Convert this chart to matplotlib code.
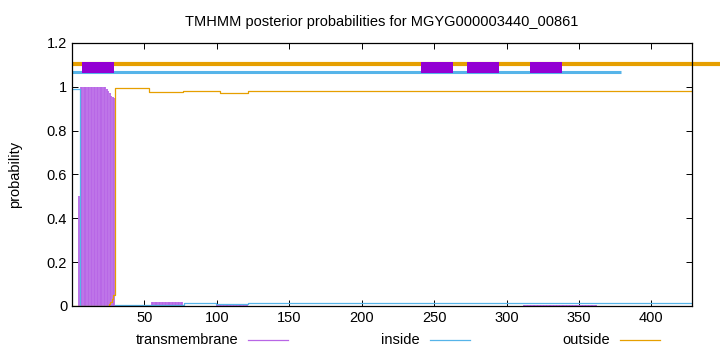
import numpy as np
import matplotlib
matplotlib.use("Agg")
import matplotlib.pyplot as plt
from matplotlib.lines import Line2D

plt.rcParams['font.family'] = ['Liberation Sans', 'DejaVu Sans']

# ---Sequence and posterior probabilities (run-length: last residue of run, value)---
seq_len = 428
title = "TMHMM posterior probabilities for MGYG000003440_00861"

tm_runs_end = [4, 5, 23, 24, 25, 26, 27, 28, 29, 54, 76, 99, 121, 311, 362, 428]
tm_runs_val = [0.0, 0.5, 1.0, 0.99, 0.98, 0.97, 0.96, 0.955, 0.95, 0.0, 0.018, 0.0, 0.009, 0.0, 0.003, 0.0]

inside_runs_end = [5, 29, 77, 99, 121, 428]
inside_runs_val = [0.99, 0.0, 0.005, 0.012, 0.01, 0.012]

outside_runs_end = [25, 26, 27, 28, 29, 53, 76, 102, 121, 428]
outside_runs_val = [0.0, 0.01, 0.02, 0.03, 0.05, 0.995, 0.975, 0.981, 0.972, 0.981]

# ---Predicted topology bars along the top---
outside_bar = (0, 460, 1.104)
inside_bar = (0, 379, 1.068)
tm_boxes = [(7, 29), (241, 263), (273, 295), (316, 338)]
tm_box_y = (1.062, 1.113)

legend_labels = ["transmembrane", "inside", "outside"]

c_tm = '#9400d3'
c_tm_imp = '#b866e6'
c_in = '#56b4e9'
c_out = '#e69f00'


def expand(ends, vals):
    counts = np.diff([0] + ends)
    return np.repeat(vals, counts)


res = np.arange(1, seq_len + 1)
tm = expand(tm_runs_end, tm_runs_val)
inside = expand(inside_runs_end, inside_runs_val)
outside = expand(outside_runs_end, outside_runs_val)

fig = plt.figure(figsize=(7.2, 3.52), dpi=100)
ax = fig.add_axes([0.1, 0.131, 0.861, 0.747])

# ---Posterior curves---
ax.vlines(res, 0, tm, color=c_tm_imp, lw=1.3)
ax.plot(res, inside, color=c_in, lw=0.9, drawstyle='steps-mid')
ax.plot(res, outside, color=c_out, lw=0.9, drawstyle='steps-mid')

# ---Topology bars---
ax.plot(outside_bar[:2], [outside_bar[2]] * 2, color=c_out, lw=3.0,
        solid_capstyle='butt', clip_on=False)
ax.plot(inside_bar[:2], [inside_bar[2]] * 2, color=c_in, lw=2.2,
        solid_capstyle='butt')
for a, b in tm_boxes:
    ax.fill_between([a, b], tm_box_y[0], tm_box_y[1], color=c_tm, lw=0, zorder=4)

ax.set_xlim(0, seq_len)
ax.set_ylim(0, 1.2)
ax.set_xticks(np.arange(50, 401, 50))
ax.set_yticks([0, 0.2, 0.4, 0.6, 0.8, 1.0, 1.2])
ax.set_yticklabels(["0", "0.2", "0.4", "0.6", "0.8", "1", "1.2"])
ax.tick_params(direction='in', top=True, right=True, length=4, labelsize=10.5, width=0.7)
for s in ax.spines.values():
    s.set_linewidth(0.9)
ax.set_ylabel("probability", fontsize=10.5, labelpad=18)
ax.set_title(title, fontsize=10.5, pad=12)

# ---Legend below the plot (gnuplot style: text then sample line)---
W, H = 720.0, 352.0
text_right = [238, 420, 610]
line_colors = [c_tm_imp, c_in, c_out]
for lab, xr, col in zip(legend_labels, text_right, line_colors):
    fig.text(xr / W, 1 - 340 / H, lab, ha='right', va='center', fontsize=10.5)
    fig.add_artist(Line2D([(xr + 10) / W, (xr + 50) / W], [1 - 340 / H] * 2,
                          color=col, lw=0.9, transform=fig.transFigure))

fig.savefig("out.png", dpi=100)
